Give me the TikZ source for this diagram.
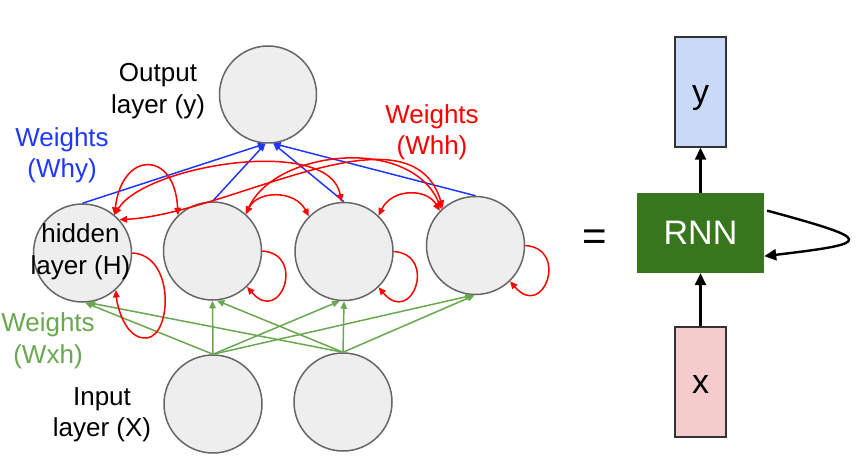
\documentclass[tikz,border=0pt]{standalone}
\usepackage{fontspec}
\setmainfont{Liberation Sans}
\usetikzlibrary{arrows.meta}

\newlength{\du}
\setlength{\du}{10\unitlength}

\definecolor{cellfill}{rgb}{0.933333, 0.933333, 0.933333}
\definecolor{cellline}{rgb}{0.400000, 0.400000, 0.400000}
\definecolor{whhred}{rgb}{1.000000, 0.000000, 0.000000}
\definecolor{whyblue}{rgb}{0.120000, 0.220000, 1.000000}
\definecolor{wxhgreen}{rgb}{0.415686, 0.658824, 0.309804}
\definecolor{yboxfill}{rgb}{0.788235, 0.854902, 0.972549}
\definecolor{xboxfill}{rgb}{0.956863, 0.800000, 0.800000}
\definecolor{rnnfill}{rgb}{0.219608, 0.462745, 0.113725}
\definecolor{boxline}{rgb}{0.200000, 0.200000, 0.200000}

\tikzset{
  cell/.style={circle, draw=cellline, fill=cellfill, line width=0.15\du, minimum size=9.8\du, inner sep=0pt},
  tag/.style={align=center, inner sep=0pt, font=\fontsize{26}{31.5}\selectfont},
  whyline/.style={draw=whyblue, line width=0.15\du, -{Triangle[length=7.5pt,width=6.5pt]}},
  wxhline/.style={draw=wxhgreen, line width=0.15\du, -{Triangle[length=7.5pt,width=6.5pt]}},
  whhline/.style={draw=whhred, line width=0.15\du, {Triangle[length=7.5pt,width=6.5pt]}-{Triangle[length=7.5pt,width=6.5pt]}},
  whhloop/.style={draw=whhred, line width=0.15\du, -{Triangle[length=7.5pt,width=6.5pt]}},
  vecbox/.style={rectangle, draw=boxline, line width=0.15\du, minimum width=5.1\du, minimum height=11\du, inner sep=0pt, text height=3.0\du, text depth=0.7\du, font=\fontsize{34}{40}\selectfont},
  rnncell/.style={rectangle, fill=rnnfill, minimum width=12.7\du, minimum height=8\du, inner sep=0pt, text=white, font=\fontsize{34}{40}\selectfont},
  flow/.style={draw=black, line width=0.24\du, -{Triangle[length=12pt,width=11pt]}}
}

\begin{document}
\begin{tikzpicture}
\pgftransformxscale{1.000000}
\pgftransformyscale{-1.000000}
\fill[white] (0.000000\du,0.000000\du) rectangle (86.600000\du,47.000000\du);
\useasboundingbox (0.000000\du,0.000000\du) rectangle (86.600000\du,47.000000\du);
% unrolled network
\node[cell, minimum size=9.7\du] (out) at (26.800000\du,9.450000\du){};
\node[cell] (h1) at (8.250000\du,25.300000\du){};
\node[cell] (h2) at (21.250000\du,25.100000\du){};
\node[cell] (h3) at (34.400000\du,25.150000\du){};
\node[cell] (h4) at (47.550000\du,24.550000\du){};
\node[cell] (i1) at (21.300000\du,40.400000\du){};
\node[cell] (i2) at (34.300000\du,40.200000\du){};
\node[tag] (outtag) at (15.800000\du,9.100000\du){Output\\layer (y)};
\node[tag, text=whyblue] (whytag) at (6.200000\du,15.550000\du){Weights\\(Why)};
\node[tag, text=whhred] (whhtag) at (43.200000\du,13.250000\du){Weights\\(Whh)};
\node[tag] (htag) at (8.050000\du,25.200000\du){hidden\\layer (H)};
\node[tag, text=wxhgreen] (wxhtag) at (4.800000\du,34.100000\du){Weights\\(Wxh)};
\node[tag] (intag) at (10.200000\du,41.500000\du){Input\\layer (X)};
% hidden to output
\draw[whyline] (h1.north)--(out.-93);
\draw[whyline] (h2.north)--(out.-93);
\draw[whyline] (h3.north)--(out.-84);
\draw[whyline] (h4.north)--(out.-84);
% input to hidden
\draw[wxhline] (i1.north)--(h1.-87);
\draw[wxhline] (i2.north)--(h1.-84);
\draw[wxhline] (i1.north)--(h2.south);
\draw[wxhline] (i2.north)--(h2.-85);
\draw[wxhline] (i1.north)--(h3.-95);
\draw[wxhline] (i2.north)--(h3.south);
\draw[wxhline] (i1.north)--(h4.-93);
\draw[wxhline] (i2.north)--(h4.-91);
% hidden to hidden
\draw[whhline] (h1.50) .. controls (12.200000\du,15.000000\du) and (17.500000\du,15.000000\du) .. (h2.134);
\draw[whhline] (h2.48) .. controls (25.800000\du,19.000000\du) and (29.500000\du,19.000000\du) .. (h3.135);
\draw[whhline] (h3.46) .. controls (39.200000\du,18.800000\du) and (42.700000\du,18.800000\du) .. (h4.136);
\draw[whhline] (h1.50) .. controls (14.500000\du,16.500000\du) and (33.000000\du,13.500000\du) .. (h3.93);
\draw[whhline] (h2.48) .. controls (27.500000\du,15.000000\du) and (41.000000\du,13.500000\du) .. (h4.133);
\draw[whhline] (h1.42) .. controls (23.000000\du,21.400000\du) and (41.000000\du,10.000000\du) .. (h4.131);
\draw[whhloop] (h1.0) .. controls (17.500000\du,25.500000\du) and (17.200000\du,33.500000\du) .. (14.700000\du,33.800000\du) .. controls (12.500000\du,34.000000\du) and (11.700000\du,30.500000\du) .. (h1.-48);
\draw[whhloop] (h2.0) .. controls (30.650000\du,25.400000\du) and (28.050000\du,32.600000\du) .. (h2.-46);
\draw[whhloop] (h3.0) .. controls (43.800000\du,25.450000\du) and (41.200000\du,32.700000\du) .. (h3.-46);
\draw[whhloop] (h4.0) .. controls (56.950000\du,24.850000\du) and (54.350000\du,32.050000\du) .. (h4.-46);
% folded network
\node[anchor=base, font=\fontsize{42}{48}\selectfont] (eqtag) at (59.450000\du,25.070000\du){=};
\node[vecbox, fill=yboxfill] (ybox) at (70.050000\du,9.200000\du){y};
\node[rnncell] (rnn) at (70.050000\du,23.300000\du){RNN};
\node[vecbox, fill=xboxfill] (xbox) at (70.050000\du,38.200000\du){x};
\draw[flow] (rnn.north)--(ybox.south);
\draw[flow] (xbox.north)--(rnn.south);
\draw[flow, shorten <=0.3\du] (rnn.20) .. controls (87.500000\du,24.000000\du) and (87.500000\du,24.300000\du) .. (rnn.-20);
\end{tikzpicture}
\end{document}
